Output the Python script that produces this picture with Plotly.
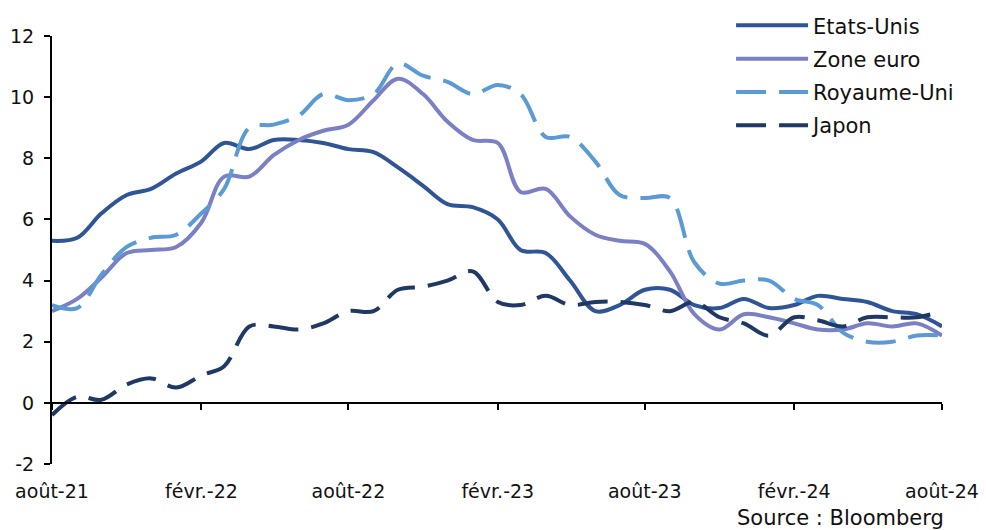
import pandas as pd
import plotly.graph_objects as go

# Monthly year-on-year consumer price inflation (%), Aug 2021 - Aug 2024
months = pd.date_range("2021-08-01", "2024-08-01", freq="MS")

etats_unis = [5.3, 5.4, 6.2, 6.8, 7.0, 7.5, 7.9, 8.5, 8.3, 8.6, 8.6, 8.5, 8.3,
              8.2, 7.7, 7.1, 6.5, 6.4, 6.0, 5.0, 4.9, 4.0, 3.0, 3.2, 3.7, 3.7,
              3.2, 3.1, 3.4, 3.1, 3.2, 3.5, 3.4, 3.3, 3.0, 2.9, 2.5]
zone_euro = [3.0, 3.4, 4.1, 4.9, 5.0, 5.1, 5.9, 7.4, 7.4, 8.1, 8.6, 8.9, 9.1,
             9.9, 10.6, 10.1, 9.2, 8.6, 8.5, 6.9, 7.0, 6.1, 5.5, 5.3, 5.2, 4.3,
             2.9, 2.4, 2.9, 2.8, 2.6, 2.4, 2.4, 2.6, 2.5, 2.6, 2.2]
royaume_uni = [3.2, 3.1, 4.2, 5.1, 5.4, 5.5, 6.2, 7.0, 9.0, 9.1, 9.4, 10.1, 9.9,
               10.1, 11.1, 10.7, 10.5, 10.1, 10.4, 10.1, 8.7, 8.7, 7.9, 6.8, 6.7,
               6.7, 4.6, 3.9, 4.0, 4.0, 3.4, 3.2, 2.3, 2.0, 2.0, 2.2, 2.2]
japon = [-0.4, 0.2, 0.1, 0.6, 0.8, 0.5, 0.9, 1.2, 2.5, 2.5, 2.4, 2.6, 3.0,
         3.0, 3.7, 3.8, 4.0, 4.3, 3.3, 3.2, 3.5, 3.2, 3.3, 3.3, 3.2, 3.0,
         3.3, 2.8, 2.6, 2.2, 2.8, 2.7, 2.5, 2.8, 2.8, 2.8, 3.0]

tick_dates = ["2021-08-01", "2022-02-01", "2022-08-01", "2023-02-01",
              "2023-08-01", "2024-02-01", "2024-08-01"]
tick_labels = ["août-21", "févr.-22", "août-22", "févr.-23",
               "août-23", "févr.-24", "août-24"]

y_ticks = [-2, 0, 2, 4, 6, 8, 10, 12]
y_labels = ["-2", "0", "2", "4", "6", "8", "10", "12"]

FONT = "DejaVu Sans"
TEXT = "#111111"
DASH = "30px,13px"

series = [
    ("Etats-Unis", etats_unis, "#2F5597", "solid"),
    ("Zone euro", zone_euro, "#7B7FC4", "solid"),
    ("Royaume-Uni", royaume_uni, "#5B9BD5", DASH),
    ("Japon", japon, "#1F3864", DASH),
]

fig = go.Figure()
for name, values, color, dash in series:
    fig.add_trace(go.Scatter(
        x=months, y=values, name=name, mode="lines",
        line=dict(color=color, width=4, dash=dash, shape="spline", smoothing=1),
        legendgroup=name,
    ))

# helper trace so the zero-line axis (x2) is drawn
fig.add_trace(go.Scatter(
    x=[months[0], months[-1]], y=[0, 0], xaxis="x2", mode="lines",
    line=dict(width=0), showlegend=False, hoverinfo="skip",
))

x_range = [months[0], months[-1]]

fig.update_layout(
    width=986, height=530,
    margin=dict(l=52, r=44, t=36, b=66, autoexpand=False),
    paper_bgcolor="white", plot_bgcolor="white",
    font=dict(family=FONT, size=19, color=TEXT),
    showlegend=True,
    legend=dict(
        x=0.763, y=1.072, xanchor="left", yanchor="top",
        bgcolor="rgba(0,0,0,0)", itemwidth=72, tracegroupgap=3,
        font=dict(family=FONT, size=21, color=TEXT),
    ),
    xaxis=dict(
        range=x_range, tickvals=tick_dates, ticktext=tick_labels,
        showline=False, ticks="", showgrid=False, zeroline=False,
        ticklabelstandoff=14, tickfont=dict(size=19),
    ),
    xaxis2=dict(
        overlaying="x", matches="x", anchor="free", position=2 / 14,
        range=x_range, tickvals=tick_dates, showticklabels=False,
        showline=True, linecolor="black", linewidth=2,
        ticks="outside", ticklen=6, tickwidth=1.5, tickcolor="black",
        showgrid=False, zeroline=False,
    ),
    yaxis=dict(
        range=[-2, 12], tickvals=y_ticks, ticktext=y_labels,
        showgrid=False, zeroline=False,
        showline=True, linecolor="black", linewidth=2,
        ticks="outside", ticklen=6, tickwidth=1.5, tickcolor="black",
        ticklabelstandoff=6, tickfont=dict(size=19),
    ),
    annotations=[dict(
        text="Source : Bloomberg", xref="paper", yref="paper",
        x=1.004, y=-0.126, xanchor="right", yanchor="middle",
        showarrow=False, font=dict(family=FONT, size=21, color=TEXT),
    )],
)

fig.write_html("out.html")
